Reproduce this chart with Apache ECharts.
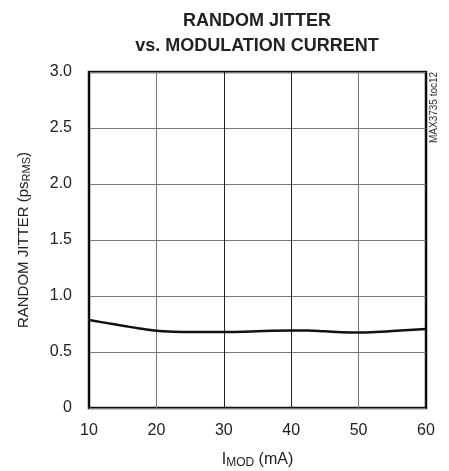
<!DOCTYPE html>
<html><head><meta charset="utf-8">
<script src="https://cdn.jsdelivr.net/npm/echarts@6/dist/echarts.min.js"></script>
<style>html,body{margin:0;padding:0;background:#fff}#c{width:449px;height:471px}</style>
</head><body><div id="c"></div>
<script>
const imod = [10, 12.5, 15, 17.5, 20, 22.5, 25, 30, 35, 40, 42.5, 45, 47.5, 50, 52.5, 55, 57.5, 60];
const jitter = [0.785, 0.76, 0.735, 0.71, 0.69, 0.681, 0.678, 0.678, 0.685, 0.693, 0.692, 0.685, 0.677, 0.675, 0.679, 0.687, 0.696, 0.705];
const xTicks = [10, 20, 30, 40, 50, 60];
const yTicks = [0, 0.5, 1.0, 1.5, 2.0, 2.5, 3.0];

const FONT = '"Liberation Sans", Arial, sans-serif';
const chart = echarts.init(document.getElementById('c'));
chart.setOption({
  animation: false,
  title: {
    text: 'RANDOM JITTER\nvs. MODULATION CURRENT',
    left: 252, textAlign: 'center', top: 4,
    textStyle: { fontFamily: FONT, fontWeight: 'bold', fontSize: 18, lineHeight: 25, color: '#222' }
  },
  grid: { left: 89, right: 23, top: 72, bottom: 63, containLabel: false, outerBoundsMode: 'none',
    show: true, borderColor: '#111', borderWidth: 2.5, backgroundColor: '#fff' },
  xAxis: {
    type: 'value', min: 10, max: 60, interval: 10,
    axisLine: { show: false }, axisTick: { show: false },
    splitLine: { show: true, lineStyle: { color: ['#000', '#777', '#222', '#222', '#777', '#000'], width: 1 } },
    axisLabel: { fontFamily: FONT, fontSize: 16, color: '#222', margin: 15, formatter: v => xTicks.includes(v) ? String(v) : '' },
    name: 'I{sub|MOD} (mA)', nameLocation: 'middle', nameGap: 43,
    nameTextStyle: { fontFamily: FONT, fontSize: 16, color: '#222',
      rich: { sub: { fontFamily: FONT, fontSize: 12, color: '#222', verticalAlign: 'bottom', padding: [6, 0, 0, 0] } } }
  },
  yAxis: {
    type: 'value', min: 0, max: 3, interval: 0.5,
    axisLine: { show: false }, axisTick: { show: false },
    splitLine: { show: true, lineStyle: { color: '#777', width: 1 } },
    axisLabel: { fontFamily: FONT, fontSize: 16, color: '#222', margin: 17,
      formatter: v => { const t = yTicks.find(k => Math.abs(k - v) < 1e-9); return t === undefined ? '' : (t === 0 ? '0' : t.toFixed(1)); } },
    name: 'RANDOM JITTER (ps{sub|RMS})', nameLocation: 'middle', nameGap: 57,
    nameTextStyle: { fontFamily: FONT, fontSize: 15, color: '#222',
      rich: { sub: { fontFamily: FONT, fontSize: 11, color: '#222', verticalAlign: 'bottom', padding: [6, 0, 0, 0] } } }
  },
  graphic: [{
    type: 'text', x: 429, y: 143, rotation: Math.PI / 2,
    style: { text: 'MAX3735 toc12', fontFamily: FONT, fontSize: 10, fill: '#333', textAlign: 'left', textVerticalAlign: 'top' }
  }],
  series: [{
    type: 'line', data: imod.map((x, i) => [x, jitter[i]]), smooth: true, showSymbol: false,
    lineStyle: { color: '#111', width: 2.5 }
  }]
});
</script></body></html>
